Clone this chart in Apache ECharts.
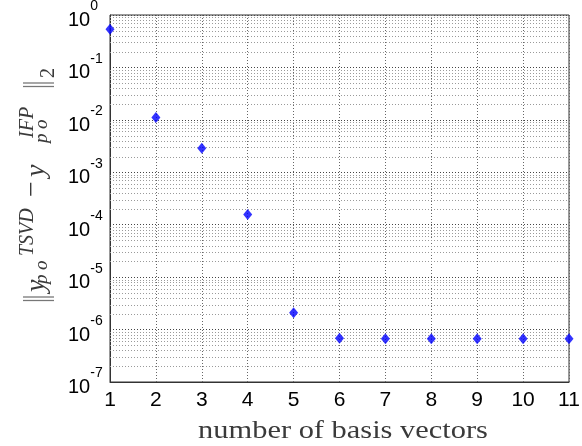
<!DOCTYPE html>
<html>
<head>
<meta charset="utf-8">
<script src="https://cdn.jsdelivr.net/npm/echarts@6/dist/echarts.min.js"></script>
<style>
  html, body { margin: 0; padding: 0; background: #fff; }
  #chart { width: 582px; height: 446px; }
</style>
</head>
<body>
<div id="chart"></div>
<script>
// Number of basis vectors used in the truncated SVD
const basisCount = [1, 2, 3, 4, 5, 6, 7, 8, 9, 10, 11];
// 2-norm of the difference between the TSVD and IFP solutions
const residualNorm = [0.536, 0.0111, 0.00288, 1.57e-4, 2.09e-6, 6.8e-7, 6.7e-7, 6.7e-7, 6.7e-7, 6.7e-7, 6.7e-7];
// Tick labels of the x axis
const xTicks = [1, 2, 3, 4, 5, 6, 7, 8, 9, 10, 11];
// Decade exponents shown on the y axis
const yExponents = [-7, -6, -5, -4, -3, -2, -1, 0];

// Minor log grid levels (2..9 times each decade)
const minorLevels = [];
for (let e = yExponents[0]; e < yExponents[yExponents.length - 1]; e++) {
  for (let m = 2; m <= 9; m++) minorLevels.push(m * Math.pow(10, e));
}

const serif = "'Liberation Serif', 'DejaVu Serif', serif";
const sans = "'Liberation Sans', Arial, sans-serif";
const labelColor = '#3a3a3a';

// Pieces of the y axis title, laid out along the rotated reading direction.
// start: screen y where the piece begins (text reads upward), base: screen x of the baseline.
function piece(text, start, base, size, italic, extra) {
  return Object.assign({
    type: 'text',
    x: -start,
    y: base - 0.3 * size,
    silent: true,
    style: {
      text: text,
      font: (italic ? 'italic ' : '') + size + 'px ' + serif,
      fill: labelColor,
      align: 'left',
      verticalAlign: 'middle'
    }
  }, extra || {});
}
// Tall, thin norm bars
function bar(start) {
  return {
    type: 'text',
    x: -start,
    y: 38,
    scaleY: 1.35,
    silent: true,
    style: {
      text: '|',
      font: '25px ' + serif,
      fill: '#777',
      align: 'center',
      verticalAlign: 'middle'
    }
  };
}
const titlePieces = [
  bar(300.5),
  bar(297),
  piece('y', 292, 45, 28, true),
  piece('p', 284, 48, 19, true),
  piece('o', 270, 48, 19, true),
  piece('TSVD', 256, 34, 20, true),
  piece('\u2212', 197, 41, 28, false),
  piece('y', 177, 45, 28, true),
  piece('p', 143, 48, 19, true),
  piece('o', 129, 48, 19, true),
  piece('IFP', 138, 34, 20, true),
  bar(86.5),
  bar(83),
  piece('2', 78, 55, 20, false)
];

const xMin = xTicks[0];
const xMax = xTicks[xTicks.length - 1];

const chart = echarts.init(document.getElementById('chart'), null, { renderer: 'canvas' });
chart.setOption({
  animation: false,
  backgroundColor: '#fff',
  grid: {
    left: 110, right: 13, top: 15, bottom: 64,
    containLabel: false,
    outerBoundsMode: 'none',
    show: true, borderColor: '#333', borderWidth: 1, backgroundColor: 'transparent'
  },
  xAxis: {
    type: 'value',
    min: xMin,
    max: xMax,
    interval: 1,
    axisLine: { lineStyle: { color: '#333', width: 1 } },
    axisTick: { show: false },
    axisLabel: {
      color: '#000', fontFamily: sans, fontSize: 21, margin: 8,
      formatter: v => (xTicks.indexOf(v) >= 0 ? String(v) : '')
    },
    splitLine: { show: true, lineStyle: { color: '#666', type: [1, 2], width: 1 } }
  },
  yAxis: {
    type: 'log',
    logBase: 10,
    min: Math.pow(10, yExponents[0]),
    max: Math.pow(10, yExponents[yExponents.length - 1]),
    splitNumber: 7,
    axisLine: { lineStyle: { color: '#333', width: 1 } },
    axisTick: { show: false },
    axisLabel: {
      margin: 42,
      align: 'left',
      formatter: v => '{b|10}{e|' + Math.round(Math.log10(v)) + '}',
      rich: {
        b: { fontFamily: sans, fontSize: 20, color: '#000', lineHeight: 31, verticalAlign: 'bottom' },
        e: { fontFamily: sans, fontSize: 14, color: '#000', lineHeight: 14, verticalAlign: 'top' }
      }
    },
    splitLine: { show: true, lineStyle: { color: '#444', type: [1, 2], width: 1 } }
  },
  graphic: [{
    type: 'group',
    x: 0, y: 0,
    rotation: Math.PI / 2,
    children: titlePieces
  }, {
    type: 'text',
    x: 343,
    y: 431,
    scaleX: 1.17,
    silent: true,
    style: {
      text: 'number of basis vectors',
      font: '26px ' + serif,
      fill: labelColor,
      align: 'center',
      verticalAlign: 'middle'
    }
  }],
  series: [{
    // dotted minor grid lines at 2..9 x 10^k
    type: 'custom',
    silent: true,
    z: 1,
    encode: { x: 0, y: 1 },
    data: minorLevels.map(v => [xMin, v]),
    renderItem: (params, api) => {
      const v = api.value(1);
      const p1 = api.coord([xMin, v]);
      const p2 = api.coord([xMax, v]);
      const y = Math.round(p1[1]) + 0.5;
      return {
        type: 'line',
        shape: { x1: p1[0], y1: y, x2: p2[0], y2: y },
        style: { stroke: '#9a9a9a', lineDash: [1, 2], lineWidth: 1 }
      };
    }
  }, {
    type: 'scatter',
    data: basisCount.map((n, i) => [n, residualNorm[i]]),
    symbol: 'diamond',
    symbolSize: [9, 11],
    itemStyle: { color: '#0000ff' },
    clip: false,
    z: 5
  }]
});
</script>
</body>
</html>
